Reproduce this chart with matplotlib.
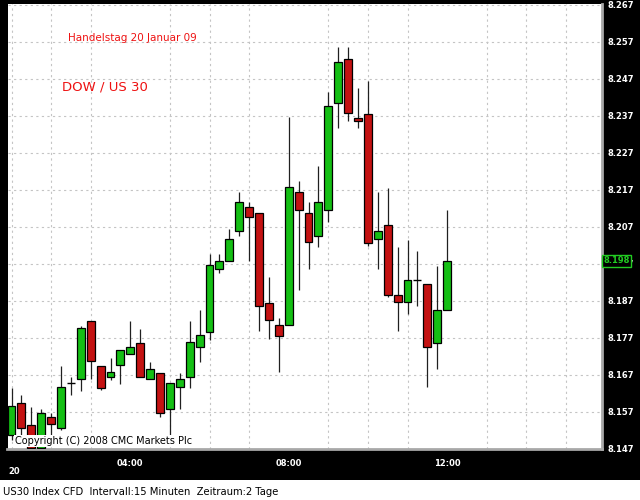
import matplotlib
matplotlib.use("Agg")
import matplotlib.pyplot as plt
from matplotlib.patches import Rectangle

# 15-minute candles, 01:00 .. 12:00 (index points)
opens  = [8150.8, 8159.5, 8153.5, 8147.4, 8155.6, 8152.6, 8164.7, 8165.8, 8181.6, 8169.4,
          8166.5, 8169.6, 8172.7, 8175.5, 8165.8, 8167.4, 8157.7, 8163.7, 8166.5, 8174.6,
          8178.7, 8195.5, 8197.8, 8205.9, 8212.4, 8210.7, 8186.5, 8180.5, 8180.5, 8216.3,
          8210.7, 8204.6, 8211.5, 8240.5, 8252.3, 8236.5, 8237.5, 8203.6, 8207.4, 8188.6,
          8186.8, 8192.6, 8191.5, 8175.7, 8184.5]
highs  = [8163.6, 8161.6, 8158.4, 8157.8, 8156.7, 8169.5, 8166.5, 8180.2, 8181.6, 8169.4,
          8171.5, 8173.7, 8181.6, 8179.4, 8170.6, 8167.4, 8164.7, 8167.4, 8181.6, 8184.5,
          8199.7, 8199.7, 8206.4, 8216.5, 8213.6, 8210.7, 8193.5, 8182.5, 8236.6, 8219.4,
          8213.6, 8223.5, 8243.5, 8255.6, 8255.6, 8244.6, 8246.5, 8216.5, 8217.5, 8201.6,
          8203.4, 8200.5, 8191.5, 8196.5, 8211.5]
lows   = [8149.4, 8150.5, 8147.1, 8147.2, 8150.8, 8152.1, 8161.6, 8162.7, 8165.8, 8162.9,
          8165.6, 8164.6, 8172.7, 8166.5, 8165.8, 8155.7, 8150.8, 8157.7, 8163.6, 8170.6,
          8176.4, 8194.6, 8197.8, 8204.5, 8197.9, 8178.9, 8176.7, 8167.9, 8180.5, 8189.9,
          8195.6, 8201.6, 8208.4, 8233.6, 8235.7, 8233.8, 8201.8, 8195.5, 8188.0, 8178.9,
          8183.6, 8185.6, 8163.8, 8168.5, 8184.5]
closes = [8158.6, 8152.6, 8147.4, 8156.6, 8153.8, 8163.7, 8164.7, 8179.6, 8170.8, 8163.6,
          8167.7, 8173.7, 8174.6, 8166.5, 8168.5, 8156.6, 8164.7, 8165.8, 8175.8, 8177.7,
          8196.7, 8197.8, 8203.7, 8213.8, 8209.6, 8185.7, 8181.8, 8177.6, 8217.8, 8211.5,
          8202.8, 8213.8, 8239.6, 8251.6, 8237.7, 8235.6, 8202.7, 8205.9, 8188.7, 8186.8,
          8192.6, 8192.6, 8174.6, 8184.5, 8197.8]

price_ticks = list(range(8147, 8268, 10))
price_labels = ["8.147", "8.157", "8.167", "8.177", "8.187", "8.197", "8.207",
                "8.217", "8.227", "8.237", "8.247", "8.257", "8.267"]
time_ticks = [12, 28, 44]
time_labels = ["04:00", "08:00", "12:00"]
last_price_label = "8.198"

GREEN = "#14bf14"
RED = "#c41212"

W, H = 640, 500
fig = plt.figure(figsize=(6.4, 5.0), dpi=100, facecolor="black")

def fx(px):
    return px / W

def fy(py):
    return 1 - py / H

ax_l, ax_r, ax_t, ax_b = 7.5, 601.5, 4, 449
ax = fig.add_axes([fx(ax_l), fy(ax_b), fx(ax_r - ax_l), (ax_b - ax_t) / H])
ax.set_facecolor("white")

x0_px, step_px = 11.5, 9.9
ax.set_xlim((ax_l - x0_px) / step_px, (ax_r - x0_px) / step_px)
ax.set_ylim(8147, 8267.2)

# grid
ax.set_xticks(range(0, 60, 4), minor=True)
ax.set_yticks(price_ticks)
ax.grid(True, which="minor", axis="x", color="#c4c4c4", linestyle=(0, (2, 3)), linewidth=0.8)
ax.grid(True, which="major", axis="y", color="#c4c4c4", linestyle=(0, (2, 3)), linewidth=0.8)
ax.set_axisbelow(True)

# candles
n = len(opens)
xs = list(range(n))
ax.vlines(xs, lows, highs, color="#202020", linewidth=0.9, zorder=2)
bw = 0.8
for i in xs:
    o, c = opens[i], closes[i]
    if abs(c - o) < 0.05:
        ax.hlines(o, i - bw / 2, i + bw / 2, color="black", linewidth=1.0, zorder=3)
        continue
    col = GREEN if c > o else RED
    ax.bar(i, abs(c - o), bottom=min(o, c), width=bw, color=col,
           edgecolor="black", linewidth=0.9, zorder=3)

# axis styling
for s in ("left", "top"):
    ax.spines[s].set_visible(False)
for s in ("right", "bottom"):
    ax.spines[s].set_color("#a8a8a8")
    ax.spines[s].set_linewidth(2)

ax.yaxis.tick_right()
ax.set_yticklabels(price_labels)
ax.tick_params(axis="y", which="both", length=0, pad=4, labelcolor="white",
               labelsize=6)
for lab in ax.get_yticklabels():
    lab.set_fontweight("bold")
ax.set_xticks(time_ticks)
ax.set_xticklabels(time_labels)
ax.tick_params(axis="x", which="both", length=0, pad=7, labelcolor="white",
               labelsize=6)
for lab in ax.get_xticklabels():
    lab.set_fontweight("bold")

# last price marker
ax.text(1.003, closes[-1], last_price_label, transform=ax.get_yaxis_transform(),
        ha="left", va="center", color="#22cc22", fontsize=6, fontweight="bold",
        bbox=dict(boxstyle="square,pad=0.15", fc="black", ec="#22cc22", lw=1),
        zorder=10, clip_on=False)

# annotations
fig.text(fx(68), fy(38), "Handelstag 20 Januar 09", color="#ee1111",
         fontsize=7.5, ha="left", va="center")
fig.text(fx(62), fy(87), "DOW / US 30", color="#ee1111",
         fontsize=9.5, ha="left", va="center")
fig.text(fx(15), fy(441), "Copyright (C) 2008 CMC Markets Plc", color="black",
         fontsize=7, ha="left", va="center",
         bbox=dict(boxstyle="square,pad=0.1", fc="white", ec="none"), zorder=20)

fig.text(fx(8), fy(471), "20", color="white", fontsize=6, fontweight="bold",
         ha="left", va="center")

# white bottom strip
fig.patches.append(Rectangle((0, 0), 1, 20 / H, transform=fig.transFigure,
                             facecolor="white", edgecolor="none", zorder=0))
fig.text(fx(3), fy(492), "US30 Index CFD  Intervall:15 Minuten  Zeitraum:2 Tage",
         color="black", fontsize=7.2, ha="left", va="center")

fig.savefig("out.png", dpi=100, facecolor="black")
